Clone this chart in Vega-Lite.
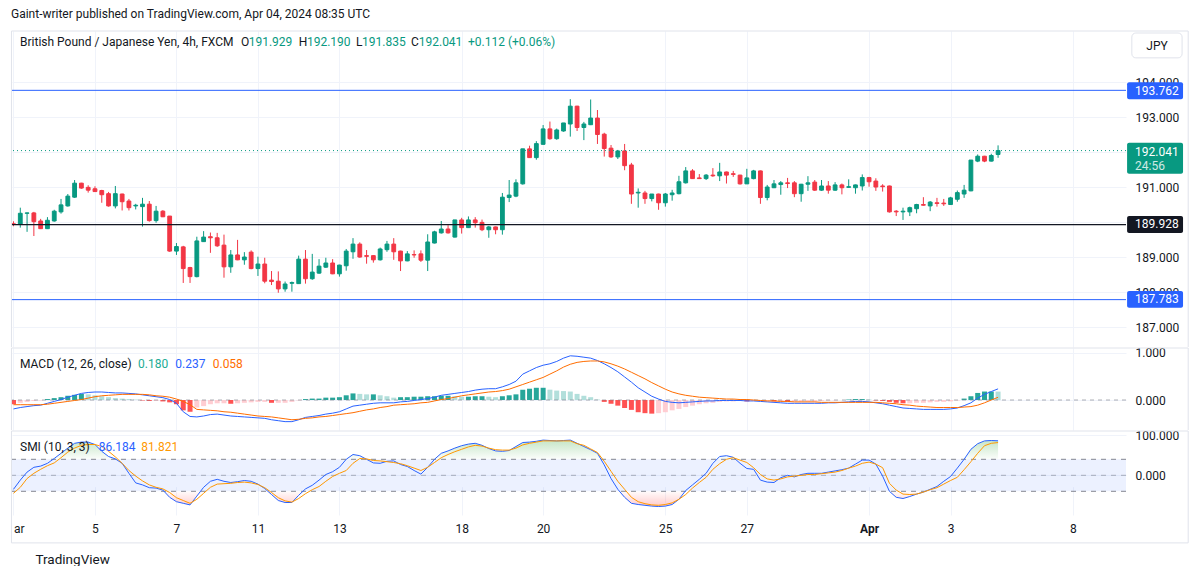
{
  "$schema": "https://vega.github.io/schema/vega-lite/v6.json",
  "background": "#ffffff",
  "padding": {"left": 10, "top": 7, "right": 0, "bottom": 0},
  "config": {"view": {"stroke": null}, "font": "Roboto", "text": {"font": "Roboto"}, "axis": {"labelFont": "Roboto", "titleFont": "Roboto"}},
  "title": {"text": "Gaint-writer published on TradingView.com, Apr 04, 2024 08:35 UTC", "anchor": "start", "fontSize": 12, "fontWeight": "normal", "color": "#131722", "offset": 10, "font": "Roboto"},
  "spacing": 1,
  "bounds": "flush",
  "data": {"values": [
    {"i":0,"o":189.95,"h":190.02,"l":189.88,"c":189.93,"macd":-0.19,"sig":-0.10,"hist":-0.09,"smi":-35,"smis":-45},
    {"i":1,"o":189.93,"h":190.41,"l":189.84,"c":190.25,"macd":-0.16,"sig":-0.10,"hist":-0.06,"smi":-12,"smis":-30},
    {"i":2,"o":190.25,"h":190.27,"l":189.72,"c":190.26,"macd":-0.14,"sig":-0.10,"hist":-0.04,"smi":8,"smis":-8},
    {"i":3,"o":190.26,"h":190.29,"l":189.60,"c":190.01,"macd":-0.12,"sig":-0.10,"hist":-0.02,"smi":20,"smis":5},
    {"i":4,"o":190.03,"h":190.09,"l":189.80,"c":189.81,"macd":-0.11,"sig":-0.10,"hist":-0.01,"smi":23,"smis":15},
    {"i":5,"o":189.81,"h":190.14,"l":189.80,"c":190.05,"macd":-0.07,"sig":-0.09,"hist":0.02,"smi":30,"smis":24},
    {"i":6,"o":190.03,"h":190.35,"l":190.01,"c":190.31,"macd":-0.03,"sig":-0.07,"hist":0.04,"smi":42,"smis":31},
    {"i":7,"o":190.29,"h":190.66,"l":190.24,"c":190.49,"macd":0.01,"sig":-0.05,"hist":0.06,"smi":55,"smis":44},
    {"i":8,"o":190.46,"h":190.80,"l":190.44,"c":190.74,"macd":0.06,"sig":-0.03,"hist":0.09,"smi":68,"smis":58},
    {"i":9,"o":190.71,"h":191.20,"l":190.69,"c":191.11,"macd":0.10,"sig":-0.01,"hist":0.11,"smi":80,"smis":68},
    {"i":10,"o":191.11,"h":191.12,"l":190.95,"c":190.97,"macd":0.14,"sig":0.01,"hist":0.13,"smi":83,"smis":75},
    {"i":11,"o":190.99,"h":191.05,"l":190.84,"c":190.91,"macd":0.16,"sig":0.04,"hist":0.12,"smi":83,"smis":77},
    {"i":12,"o":190.95,"h":191.02,"l":190.86,"c":190.87,"macd":0.17,"sig":0.07,"hist":0.10,"smi":77,"smis":77},
    {"i":13,"o":190.90,"h":190.92,"l":190.55,"c":190.78,"macd":0.17,"sig":0.09,"hist":0.08,"smi":60,"smis":72},
    {"i":14,"o":190.81,"h":190.86,"l":190.44,"c":190.46,"macd":0.16,"sig":0.10,"hist":0.06,"smi":47,"smis":60},
    {"i":15,"o":190.46,"h":191.03,"l":190.39,"c":190.81,"macd":0.15,"sig":0.11,"hist":0.04,"smi":41,"smis":46},
    {"i":16,"o":190.80,"h":190.81,"l":190.33,"c":190.58,"macd":0.15,"sig":0.12,"hist":0.03,"smi":30,"smis":30},
    {"i":17,"o":190.60,"h":190.66,"l":190.33,"c":190.41,"macd":0.14,"sig":0.12,"hist":0.02,"smi":5,"smis":12},
    {"i":18,"o":190.46,"h":190.52,"l":190.36,"c":190.48,"macd":0.13,"sig":0.12,"hist":0.01,"smi":-19,"smis":-2},
    {"i":19,"o":190.44,"h":190.69,"l":189.87,"c":190.51,"macd":0.11,"sig":0.12,"hist":-0.01,"smi":-24,"smis":-14},
    {"i":20,"o":190.51,"h":190.60,"l":190.01,"c":190.04,"macd":0.09,"sig":0.11,"hist":-0.02,"smi":-31,"smis":-24},
    {"i":21,"o":190.04,"h":190.46,"l":189.98,"c":190.31,"macd":0.07,"sig":0.09,"hist":-0.02,"smi":-32,"smis":-30},
    {"i":22,"o":190.31,"h":190.34,"l":190.14,"c":190.15,"macd":0.05,"sig":0.08,"hist":-0.03,"smi":-37,"smis":-34},
    {"i":23,"o":190.17,"h":190.17,"l":189.15,"c":189.17,"macd":0.01,"sig":0.06,"hist":-0.05,"smi":-55,"smis":-43},
    {"i":24,"o":189.17,"h":189.40,"l":189.06,"c":189.30,"macd":-0.07,"sig":0.02,"hist":-0.09,"smi":-66,"smis":-56},
    {"i":25,"o":189.29,"h":189.32,"l":188.26,"c":188.67,"macd":-0.25,"sig":-0.03,"hist":-0.22,"smi":-70,"smis":-63},
    {"i":26,"o":188.70,"h":188.72,"l":188.26,"c":188.44,"macd":-0.35,"sig":-0.10,"hist":-0.25,"smi":-74,"smis":-70},
    {"i":27,"o":188.44,"h":189.58,"l":188.42,"c":189.46,"macd":-0.36,"sig":-0.20,"hist":-0.16,"smi":-52,"smis":-60},
    {"i":28,"o":189.44,"h":189.74,"l":189.43,"c":189.57,"macd":-0.34,"sig":-0.21,"hist":-0.13,"smi":-30,"smis":-45},
    {"i":29,"o":189.58,"h":189.70,"l":189.12,"c":189.55,"macd":-0.31,"sig":-0.22,"hist":-0.09,"smi":-15,"smis":-30},
    {"i":30,"o":189.55,"h":189.69,"l":189.29,"c":189.32,"macd":-0.30,"sig":-0.23,"hist":-0.07,"smi":-10,"smis":-22},
    {"i":31,"o":189.34,"h":189.64,"l":188.41,"c":188.72,"macd":-0.32,"sig":-0.25,"hist":-0.07,"smi":-15,"smis":-21},
    {"i":32,"o":188.72,"h":189.20,"l":188.55,"c":189.06,"macd":-0.34,"sig":-0.26,"hist":-0.08,"smi":-18,"smis":-20},
    {"i":33,"o":189.06,"h":189.49,"l":188.91,"c":188.92,"macd":-0.35,"sig":-0.28,"hist":-0.07,"smi":-16,"smis":-18},
    {"i":34,"o":188.92,"h":189.14,"l":188.78,"c":189.00,"macd":-0.36,"sig":-0.30,"hist":-0.06,"smi":-13,"smis":-17},
    {"i":35,"o":189.14,"h":189.19,"l":188.65,"c":188.67,"macd":-0.37,"sig":-0.32,"hist":-0.05,"smi":-15,"smis":-19},
    {"i":36,"o":188.67,"h":189.01,"l":188.46,"c":188.80,"macd":-0.38,"sig":-0.34,"hist":-0.04,"smi":-22,"smis":-23},
    {"i":37,"o":188.80,"h":188.98,"l":188.25,"c":188.31,"macd":-0.39,"sig":-0.35,"hist":-0.04,"smi":-33,"smis":-31},
    {"i":38,"o":188.34,"h":188.60,"l":188.20,"c":188.30,"macd":-0.42,"sig":-0.36,"hist":-0.06,"smi":-48,"smis":-43},
    {"i":39,"o":188.31,"h":188.59,"l":187.98,"c":188.09,"macd":-0.44,"sig":-0.38,"hist":-0.06,"smi":-63,"smis":-56},
    {"i":40,"o":188.09,"h":188.30,"l":188.01,"c":188.23,"macd":-0.46,"sig":-0.40,"hist":-0.06,"smi":-68,"smis":-64},
    {"i":41,"o":188.25,"h":188.30,"l":188.01,"c":188.27,"macd":-0.46,"sig":-0.42,"hist":-0.04,"smi":-68,"smis":-67},
    {"i":42,"o":188.24,"h":189.04,"l":188.23,"c":188.94,"macd":-0.42,"sig":-0.41,"hist":-0.01,"smi":-50,"smis":-58},
    {"i":43,"o":188.94,"h":189.20,"l":188.24,"c":188.38,"macd":-0.37,"sig":-0.39,"hist":0.02,"smi":-34,"smis":-46},
    {"i":44,"o":188.38,"h":189.09,"l":188.35,"c":188.57,"macd":-0.35,"sig":-0.38,"hist":0.03,"smi":-25,"smis":-36},
    {"i":45,"o":188.54,"h":188.94,"l":188.52,"c":188.74,"macd":-0.33,"sig":-0.36,"hist":0.03,"smi":-12,"smis":-28},
    {"i":46,"o":188.71,"h":188.98,"l":188.69,"c":188.83,"macd":-0.30,"sig":-0.35,"hist":0.05,"smi":2,"smis":-15},
    {"i":47,"o":188.83,"h":188.94,"l":188.51,"c":188.52,"macd":-0.28,"sig":-0.33,"hist":0.05,"smi":9,"smis":-3},
    {"i":48,"o":188.52,"h":188.78,"l":188.44,"c":188.77,"macd":-0.25,"sig":-0.31,"hist":0.06,"smi":20,"smis":5},
    {"i":49,"o":188.75,"h":189.23,"l":188.61,"c":189.17,"macd":-0.19,"sig":-0.29,"hist":0.10,"smi":40,"smis":12},
    {"i":50,"o":189.15,"h":189.54,"l":188.95,"c":189.37,"macd":-0.13,"sig":-0.27,"hist":0.14,"smi":52,"smis":30},
    {"i":51,"o":189.37,"h":189.42,"l":188.98,"c":189.00,"macd":-0.11,"sig":-0.24,"hist":0.13,"smi":49,"smis":42},
    {"i":52,"o":189.04,"h":189.20,"l":188.81,"c":189.02,"macd":-0.09,"sig":-0.21,"hist":0.12,"smi":40,"smis":41},
    {"i":53,"o":189.04,"h":189.05,"l":188.84,"c":188.92,"macd":-0.07,"sig":-0.19,"hist":0.12,"smi":31,"smis":37},
    {"i":54,"o":188.92,"h":189.27,"l":188.90,"c":189.23,"macd":-0.06,"sig":-0.16,"hist":0.10,"smi":30,"smis":36},
    {"i":55,"o":189.21,"h":189.46,"l":189.15,"c":189.37,"macd":-0.06,"sig":-0.14,"hist":0.08,"smi":35,"smis":34},
    {"i":56,"o":189.37,"h":189.54,"l":188.92,"c":189.15,"macd":-0.06,"sig":-0.11,"hist":0.05,"smi":36,"smis":32},
    {"i":57,"o":189.17,"h":189.18,"l":188.60,"c":188.89,"macd":-0.04,"sig":-0.10,"hist":0.06,"smi":27,"smis":29},
    {"i":58,"o":188.89,"h":189.17,"l":188.88,"c":189.09,"macd":-0.03,"sig":-0.09,"hist":0.06,"smi":22,"smis":24},
    {"i":59,"o":189.07,"h":189.19,"l":188.98,"c":189.06,"macd":-0.01,"sig":-0.08,"hist":0.07,"smi":12,"smis":18},
    {"i":60,"o":189.09,"h":189.19,"l":188.86,"c":188.91,"macd":0.01,"sig":-0.06,"hist":0.07,"smi":3,"smis":12},
    {"i":61,"o":188.91,"h":189.65,"l":188.60,"c":189.43,"macd":0.03,"sig":-0.05,"hist":0.08,"smi":20,"smis":20},
    {"i":62,"o":189.40,"h":189.75,"l":189.39,"c":189.72,"macd":0.06,"sig":-0.02,"hist":0.08,"smi":40,"smis":32},
    {"i":63,"o":189.69,"h":190.03,"l":189.67,"c":189.80,"macd":0.10,"sig":0.01,"hist":0.09,"smi":55,"smis":44},
    {"i":64,"o":189.80,"h":189.91,"l":189.67,"c":189.69,"macd":0.12,"sig":0.03,"hist":0.09,"smi":61,"smis":52},
    {"i":65,"o":189.57,"h":190.06,"l":189.56,"c":190.06,"macd":0.14,"sig":0.06,"hist":0.08,"smi":68,"smis":59},
    {"i":66,"o":190.06,"h":190.12,"l":189.67,"c":189.84,"macd":0.16,"sig":0.09,"hist":0.07,"smi":74,"smis":65},
    {"i":67,"o":189.84,"h":190.16,"l":189.83,"c":190.06,"macd":0.18,"sig":0.11,"hist":0.07,"smi":78,"smis":71},
    {"i":68,"o":190.06,"h":190.14,"l":189.84,"c":189.98,"macd":0.21,"sig":0.13,"hist":0.08,"smi":80,"smis":75},
    {"i":69,"o":189.99,"h":190.07,"l":189.74,"c":189.78,"macd":0.23,"sig":0.15,"hist":0.08,"smi":75,"smis":73},
    {"i":70,"o":189.78,"h":189.89,"l":189.55,"c":189.86,"macd":0.24,"sig":0.17,"hist":0.07,"smi":67,"smis":68},
    {"i":71,"o":189.86,"h":189.87,"l":189.65,"c":189.78,"macd":0.24,"sig":0.18,"hist":0.06,"smi":61,"smis":64},
    {"i":72,"o":189.78,"h":190.83,"l":189.64,"c":190.71,"macd":0.28,"sig":0.20,"hist":0.08,"smi":60,"smis":63},
    {"i":73,"o":190.70,"h":191.20,"l":190.57,"c":190.77,"macd":0.33,"sig":0.23,"hist":0.10,"smi":62,"smis":63},
    {"i":74,"o":190.74,"h":191.22,"l":190.71,"c":191.12,"macd":0.40,"sig":0.28,"hist":0.12,"smi":72,"smis":68},
    {"i":75,"o":191.09,"h":192.09,"l":191.07,"c":192.09,"macd":0.55,"sig":0.33,"hist":0.22,"smi":82,"smis":76},
    {"i":76,"o":192.09,"h":192.18,"l":191.83,"c":191.84,"macd":0.62,"sig":0.38,"hist":0.24,"smi":83,"smis":80},
    {"i":77,"o":191.84,"h":192.31,"l":191.78,"c":192.24,"macd":0.69,"sig":0.43,"hist":0.26,"smi":85,"smis":83},
    {"i":78,"o":192.22,"h":192.77,"l":192.21,"c":192.66,"macd":0.74,"sig":0.48,"hist":0.26,"smi":88,"smis":86},
    {"i":79,"o":192.66,"h":192.87,"l":192.35,"c":192.38,"macd":0.77,"sig":0.55,"hist":0.22,"smi":87,"smis":86},
    {"i":80,"o":192.38,"h":192.67,"l":192.35,"c":192.63,"macd":0.82,"sig":0.62,"hist":0.20,"smi":86,"smis":86},
    {"i":81,"o":192.60,"h":192.83,"l":192.58,"c":192.83,"macd":0.89,"sig":0.70,"hist":0.19,"smi":87,"smis":86},
    {"i":82,"o":192.80,"h":193.51,"l":192.44,"c":193.31,"macd":0.94,"sig":0.76,"hist":0.18,"smi":88,"smis":86},
    {"i":83,"o":193.31,"h":193.32,"l":192.60,"c":192.70,"macd":0.93,"sig":0.80,"hist":0.13,"smi":80,"smis":79},
    {"i":84,"o":192.70,"h":192.86,"l":192.34,"c":192.80,"macd":0.91,"sig":0.82,"hist":0.09,"smi":72,"smis":75},
    {"i":85,"o":192.78,"h":193.50,"l":192.77,"c":192.97,"macd":0.89,"sig":0.83,"hist":0.06,"smi":64,"smis":66},
    {"i":86,"o":192.97,"h":193.20,"l":192.23,"c":192.50,"macd":0.84,"sig":0.83,"hist":0.01,"smi":55,"smis":57},
    {"i":87,"o":192.51,"h":192.55,"l":191.87,"c":192.10,"macd":0.77,"sig":0.81,"hist":-0.04,"smi":26,"smis":35},
    {"i":88,"o":192.11,"h":192.20,"l":191.83,"c":191.86,"macd":0.69,"sig":0.77,"hist":-0.08,"smi":-8,"smis":10},
    {"i":89,"o":191.86,"h":192.06,"l":191.80,"c":192.03,"macd":0.60,"sig":0.72,"hist":-0.12,"smi":-35,"smis":-15},
    {"i":90,"o":192.03,"h":192.23,"l":191.48,"c":191.61,"macd":0.49,"sig":0.66,"hist":-0.17,"smi":-55,"smis":-35},
    {"i":91,"o":191.63,"h":191.69,"l":190.52,"c":190.80,"macd":0.38,"sig":0.59,"hist":-0.21,"smi":-70,"smis":-55},
    {"i":92,"o":190.83,"h":190.96,"l":190.41,"c":190.85,"macd":0.26,"sig":0.52,"hist":-0.26,"smi":-73,"smis":-66},
    {"i":93,"o":190.83,"h":190.89,"l":190.52,"c":190.67,"macd":0.17,"sig":0.45,"hist":-0.28,"smi":-75,"smis":-71},
    {"i":94,"o":190.67,"h":190.80,"l":190.59,"c":190.80,"macd":0.08,"sig":0.37,"hist":-0.29,"smi":-77,"smis":-74},
    {"i":95,"o":190.80,"h":190.81,"l":190.35,"c":190.55,"macd":0.02,"sig":0.30,"hist":-0.28,"smi":-78,"smis":-75},
    {"i":96,"o":190.55,"h":190.83,"l":190.44,"c":190.80,"macd":-0.03,"sig":0.23,"hist":-0.26,"smi":-77,"smis":-73},
    {"i":97,"o":190.78,"h":190.92,"l":190.61,"c":190.83,"macd":-0.05,"sig":0.17,"hist":-0.22,"smi":-73,"smis":-69},
    {"i":98,"o":190.81,"h":191.32,"l":190.79,"c":191.15,"macd":-0.06,"sig":0.13,"hist":-0.19,"smi":-60,"smis":-60},
    {"i":99,"o":191.12,"h":191.57,"l":191.10,"c":191.46,"macd":-0.05,"sig":0.10,"hist":-0.15,"smi":-38,"smis":-48},
    {"i":100,"o":191.46,"h":191.51,"l":191.23,"c":191.24,"macd":-0.04,"sig":0.08,"hist":-0.12,"smi":-24,"smis":-32},
    {"i":101,"o":191.26,"h":191.37,"l":191.23,"c":191.24,"macd":-0.03,"sig":0.06,"hist":-0.09,"smi":-10,"smis":-18},
    {"i":102,"o":191.24,"h":191.37,"l":191.20,"c":191.34,"macd":-0.02,"sig":0.05,"hist":-0.07,"smi":5,"smis":-5},
    {"i":103,"o":191.34,"h":191.54,"l":191.29,"c":191.32,"macd":-0.02,"sig":0.04,"hist":-0.06,"smi":30,"smis":15},
    {"i":104,"o":191.32,"h":191.69,"l":191.17,"c":191.43,"macd":-0.01,"sig":0.03,"hist":-0.04,"smi":47,"smis":29},
    {"i":105,"o":191.43,"h":191.44,"l":191.10,"c":191.34,"macd":-0.01,"sig":0.02,"hist":-0.03,"smi":49,"smis":40},
    {"i":106,"o":191.38,"h":191.46,"l":191.29,"c":191.36,"macd":-0.01,"sig":0.02,"hist":-0.03,"smi":45,"smis":44},
    {"i":107,"o":191.34,"h":191.35,"l":191.07,"c":191.09,"macd":-0.01,"sig":0.01,"hist":-0.02,"smi":30,"smis":38},
    {"i":108,"o":191.09,"h":191.52,"l":191.09,"c":191.26,"macd":-0.02,"sig":0.01,"hist":-0.03,"smi":17,"smis":32},
    {"i":109,"o":191.24,"h":191.49,"l":191.22,"c":191.46,"macd":-0.02,"sig":0.00,"hist":-0.02,"smi":15,"smis":19},
    {"i":110,"o":191.46,"h":191.47,"l":190.52,"c":190.70,"macd":-0.03,"sig":-0.01,"hist":-0.02,"smi":-12,"smis":2},
    {"i":111,"o":190.70,"h":191.06,"l":190.62,"c":191.00,"macd":-0.04,"sig":-0.02,"hist":-0.02,"smi":-17,"smis":-9},
    {"i":112,"o":190.98,"h":191.20,"l":190.97,"c":191.09,"macd":-0.05,"sig":-0.02,"hist":-0.03,"smi":-18,"smis":-12},
    {"i":113,"o":191.07,"h":191.17,"l":190.78,"c":191.12,"macd":-0.06,"sig":-0.03,"hist":-0.03,"smi":-6,"smis":-9},
    {"i":114,"o":191.12,"h":191.26,"l":190.97,"c":191.10,"macd":-0.07,"sig":-0.03,"hist":-0.04,"smi":0,"smis":-4},
    {"i":115,"o":191.12,"h":191.17,"l":190.71,"c":190.81,"macd":-0.07,"sig":-0.04,"hist":-0.03,"smi":-4,"smis":-2},
    {"i":116,"o":190.81,"h":191.09,"l":190.58,"c":191.08,"macd":-0.07,"sig":-0.04,"hist":-0.03,"smi":2,"smis":0},
    {"i":117,"o":191.08,"h":191.31,"l":190.89,"c":191.12,"macd":-0.07,"sig":-0.04,"hist":-0.03,"smi":5,"smis":2},
    {"i":118,"o":191.14,"h":191.20,"l":190.89,"c":190.91,"macd":-0.07,"sig":-0.04,"hist":-0.03,"smi":5,"smis":2},
    {"i":119,"o":190.91,"h":191.20,"l":190.89,"c":191.03,"macd":-0.07,"sig":-0.05,"hist":-0.02,"smi":5,"smis":4},
    {"i":120,"o":191.03,"h":191.17,"l":190.81,"c":190.91,"macd":-0.06,"sig":-0.05,"hist":-0.01,"smi":8,"smis":6},
    {"i":121,"o":190.91,"h":191.14,"l":190.89,"c":191.06,"macd":-0.06,"sig":-0.05,"hist":-0.01,"smi":11,"smis":8},
    {"i":122,"o":191.06,"h":191.10,"l":190.79,"c":190.98,"macd":-0.05,"sig":-0.05,"hist":0.00,"smi":14,"smis":12},
    {"i":123,"o":190.99,"h":191.22,"l":190.98,"c":191.01,"macd":-0.04,"sig":-0.05,"hist":0.01,"smi":18,"smis":18},
    {"i":124,"o":190.98,"h":191.07,"l":190.81,"c":191.06,"macd":-0.03,"sig":-0.05,"hist":0.02,"smi":28,"smis":23},
    {"i":125,"o":191.03,"h":191.36,"l":190.90,"c":191.27,"macd":-0.03,"sig":-0.05,"hist":0.02,"smi":38,"smis":30},
    {"i":126,"o":191.27,"h":191.29,"l":191.01,"c":191.15,"macd":-0.04,"sig":-0.05,"hist":0.01,"smi":38,"smis":33},
    {"i":127,"o":191.17,"h":191.25,"l":190.89,"c":191.00,"macd":-0.06,"sig":-0.05,"hist":-0.01,"smi":28,"smis":28},
    {"i":128,"o":191.03,"h":191.08,"l":190.87,"c":191.01,"macd":-0.08,"sig":-0.06,"hist":-0.02,"smi":-2,"smis":19},
    {"i":129,"o":191.03,"h":191.04,"l":190.27,"c":190.29,"macd":-0.11,"sig":-0.07,"hist":-0.04,"smi":-40,"smis":-20},
    {"i":130,"o":190.31,"h":190.34,"l":190.17,"c":190.29,"macd":-0.14,"sig":-0.08,"hist":-0.06,"smi":-55,"smis":-37},
    {"i":131,"o":190.29,"h":190.41,"l":190.06,"c":190.31,"macd":-0.17,"sig":-0.10,"hist":-0.07,"smi":-58,"smis":-47},
    {"i":132,"o":190.29,"h":190.44,"l":190.17,"c":190.41,"macd":-0.18,"sig":-0.11,"hist":-0.07,"smi":-53,"smis":-48},
    {"i":133,"o":190.38,"h":190.52,"l":190.25,"c":190.50,"macd":-0.19,"sig":-0.13,"hist":-0.06,"smi":-47,"smis":-47},
    {"i":134,"o":190.50,"h":190.71,"l":190.47,"c":190.48,"macd":-0.20,"sig":-0.14,"hist":-0.06,"smi":-42,"smis":-42},
    {"i":135,"o":190.46,"h":190.60,"l":190.31,"c":190.57,"macd":-0.20,"sig":-0.15,"hist":-0.05,"smi":-35,"smis":-36},
    {"i":136,"o":190.55,"h":190.69,"l":190.44,"c":190.53,"macd":-0.20,"sig":-0.16,"hist":-0.04,"smi":-28,"smis":-31},
    {"i":137,"o":190.54,"h":190.66,"l":190.46,"c":190.52,"macd":-0.20,"sig":-0.16,"hist":-0.04,"smi":-15,"smis":-22},
    {"i":138,"o":190.50,"h":190.72,"l":190.49,"c":190.69,"macd":-0.19,"sig":-0.16,"hist":-0.03,"smi":-3,"smis":-13},
    {"i":139,"o":190.65,"h":190.90,"l":190.58,"c":190.84,"macd":-0.17,"sig":-0.16,"hist":-0.01,"smi":18,"smis":-5},
    {"i":140,"o":190.80,"h":191.06,"l":190.69,"c":190.91,"macd":-0.12,"sig":-0.15,"hist":0.03,"smi":40,"smis":14},
    {"i":141,"o":190.89,"h":191.77,"l":190.88,"c":191.77,"macd":-0.06,"sig":-0.14,"hist":0.08,"smi":65,"smis":34},
    {"i":142,"o":191.74,"h":191.93,"l":191.71,"c":191.88,"macd":0.04,"sig":-0.11,"hist":0.15,"smi":79,"smis":55},
    {"i":143,"o":191.88,"h":191.89,"l":191.71,"c":191.74,"macd":0.12,"sig":-0.06,"hist":0.18,"smi":86,"smis":74},
    {"i":144,"o":191.74,"h":191.95,"l":191.73,"c":191.90,"macd":0.18,"sig":0.00,"hist":0.18,"smi":87,"smis":80},
    {"i":145,"o":191.929,"h":192.19,"l":191.835,"c":192.041,"macd":0.237,"sig":0.058,"hist":0.179,"smi":86.184,"smis":81.821}
  ]},
  "vconcat": [
    {
      "width": 1114,
      "height": 316,
      "layer": [
        {"mark": {"type": "rule", "strokeWidth": 1},
         "encoding": {
           "x": {"field": "i", "type": "quantitative", "title": null, "scale": {"domain": [-0.22, 163.84], "nice": false, "zero": false, "padding": 0},
                 "axis": {"values": [0, 12, 24, 36, 48, 66, 78, 96, 108, 126, 138, 156], "labels": false, "ticks": false, "domain": false, "grid": true, "gridColor": "#f0f3fa", "title": null}},
           "y": {"field": "l", "type": "quantitative", "title": null, "scale": {"domain": [186.43, 195.457], "nice": false, "zero": false},
                 "axis": {"orient": "right", "values": [187, 188, 189, 190, 191, 192, 193, 194], "format": ".3f", "grid": true, "gridColor": "#f0f3fa", "ticks": false, "domain": false, "labelPadding": 9, "labelFontSize": 12, "labelColor": "#131722", "title": null}},
           "y2": {"field": "h"},
           "color": {"condition": {"test": "datum.c >= datum.o", "value": "#089981"}, "value": "#f23645"}
         }},
        {"mark": {"type": "bar", "width": 3.8, "strokeWidth": 1},
         "encoding": {
           "x": {"field": "i", "type": "quantitative", "title": null, "scale": {"domain": [-0.22, 163.84], "nice": false, "zero": false, "padding": 0}},
           "y": {"field": "o", "type": "quantitative", "title": null, "scale": {"domain": [186.43, 195.457], "nice": false, "zero": false}},
           "y2": {"field": "c"},
           "color": {"condition": {"test": "datum.c >= datum.o", "value": "#089981"}, "value": "#f23645"},
           "stroke": {"condition": {"test": "datum.c >= datum.o", "value": "#089981"}, "value": "#f23645"}
         }},
        {"data": {"values": [{}]}, "mark": {"type": "rule", "color": "#089981", "strokeWidth": 1, "strokeDash": [1, 3]},
         "encoding": {"y": {"datum": 192.041, "type": "quantitative", "title": null}}},
        {"data": {"values": [{}]}, "mark": {"type": "rule", "color": "#2962ff", "strokeWidth": 1},
         "encoding": {"y": {"datum": 193.762, "type": "quantitative", "title": null}}},
        {"data": {"values": [{}]}, "mark": {"type": "rule", "color": "#2962ff", "strokeWidth": 1},
         "encoding": {"y": {"datum": 187.783, "type": "quantitative", "title": null}}},
        {"data": {"values": [{}]}, "mark": {"type": "rule", "color": "#131722", "strokeWidth": 1.3},
         "encoding": {"y": {"datum": 189.928, "type": "quantitative", "title": null}}},
        {"data": {"values": [{}]}, "mark": {"type": "rule", "color": "#e0e3eb", "strokeWidth": 1},
         "encoding": {"x": {"datum": -0.3, "type": "quantitative", "title": null}, "x2": {"datum": 173.0},
                      "y": {"datum": 195.457, "type": "quantitative", "title": null}}},
        {"data": {"values": [{}]}, "mark": {"type": "rule", "color": "#e0e3eb", "strokeWidth": 1},
         "encoding": {"x": {"datum": -0.3, "type": "quantitative", "title": null},
                      "y": {"datum": 195.457, "type": "quantitative", "title": null}, "y2": {"datum": 186.43}}},
        {"data": {"values": [{}]}, "mark": {"type": "rule", "color": "#e0e3eb", "strokeWidth": 1},
         "encoding": {"x": {"datum": 173.0, "type": "quantitative", "title": null},
                      "y": {"datum": 195.457, "type": "quantitative", "title": null}, "y2": {"datum": 186.43}}},
        {"data": {"values": [{}]}, "mark": {"type": "rect", "color": "#2962ff", "cornerRadius": 2},
         "encoding": {"x": {"datum": 164.0, "type": "quantitative", "title": null}, "x2": {"datum": 172.24},
                      "y": {"datum": 193.99, "type": "quantitative", "title": null}, "y2": {"datum": 193.51}}},
        {"data": {"values": [{}]}, "mark": {"type": "rect", "color": "#089981", "cornerRadius": 2},
         "encoding": {"x": {"datum": 164.0, "type": "quantitative", "title": null}, "x2": {"datum": 172.24},
                      "y": {"datum": 192.266, "type": "quantitative", "title": null}, "y2": {"datum": 191.38}}},
        {"data": {"values": [{}]}, "mark": {"type": "rect", "color": "#131722", "cornerRadius": 2},
         "encoding": {"x": {"datum": 164.0, "type": "quantitative", "title": null}, "x2": {"datum": 172.24},
                      "y": {"datum": 190.17, "type": "quantitative", "title": null}, "y2": {"datum": 189.69}}},
        {"data": {"values": [{}]}, "mark": {"type": "rect", "color": "#2962ff", "cornerRadius": 2},
         "encoding": {"x": {"datum": 164.0, "type": "quantitative", "title": null}, "x2": {"datum": 172.24},
                      "y": {"datum": 188.03, "type": "quantitative", "title": null}, "y2": {"datum": 187.55}}},
        {"data": {"values": [{}]}, "mark": {"type": "rect", "fill": "#ffffff", "stroke": "#e0e3eb", "strokeWidth": 1, "cornerRadius": 4},
         "encoding": {"x": {"datum": 164.7, "type": "quantitative", "title": null}, "x2": {"datum": 172.1},
                      "y": {"datum": 195.40, "type": "quantitative", "title": null}, "y2": {"datum": 194.69}}},
        {"data": {"values": [{}]}, "mark": {"type": "text", "align": "center", "baseline": "middle", "fontSize": 12, "color": "#131722", "text": "JPY"},
         "encoding": {"x": {"datum": 168.4, "type": "quantitative", "title": null}, "y": {"datum": 195.04, "type": "quantitative", "title": null}}},
        {"data": {"values": [{}]}, "mark": {"type": "text", "align": "left", "baseline": "middle", "fontSize": 12, "color": "#ffffff", "text": "193.762"},
         "encoding": {"x": {"datum": 165.17, "type": "quantitative", "title": null}, "y": {"datum": 193.745, "type": "quantitative", "title": null}}},
        {"data": {"values": [{}]}, "mark": {"type": "text", "align": "left", "baseline": "middle", "fontSize": 12, "color": "#ffffff", "text": "192.041"},
         "encoding": {"x": {"datum": 165.17, "type": "quantitative", "title": null}, "y": {"datum": 192.01, "type": "quantitative", "title": null}}},
        {"data": {"values": [{}]}, "mark": {"type": "text", "align": "left", "baseline": "middle", "fontSize": 12, "color": "#ffffff", "opacity": 0.8, "text": "24:56"},
         "encoding": {"x": {"datum": 165.17, "type": "quantitative", "title": null}, "y": {"datum": 191.60, "type": "quantitative", "title": null}}},
        {"data": {"values": [{}]}, "mark": {"type": "text", "align": "left", "baseline": "middle", "fontSize": 12, "color": "#ffffff", "text": "189.928"},
         "encoding": {"x": {"datum": 165.17, "type": "quantitative", "title": null}, "y": {"datum": 189.93, "type": "quantitative", "title": null}}},
        {"data": {"values": [{}]}, "mark": {"type": "text", "align": "left", "baseline": "middle", "fontSize": 12, "color": "#ffffff", "text": "187.783"},
         "encoding": {"x": {"datum": 165.17, "type": "quantitative", "title": null}, "y": {"datum": 187.79, "type": "quantitative", "title": null}}},
        {"data": {"values": [{}]}, "mark": {"type": "text", "align": "left", "baseline": "middle", "fontSize": 12, "color": "#131722", "text": "British Pound / Japanese Yen, 4h, FXCM"},
         "encoding": {"x": {"datum": 0.96, "type": "quantitative", "title": null}, "y": {"datum": 195.13, "type": "quantitative", "title": null}}},
        {"data": {"values": [{}]}, "mark": {"type": "text", "align": "left", "baseline": "middle", "fontSize": 12, "color": "#131722", "text": "O"},
         "encoding": {"x": {"datum": 33.5, "type": "quantitative", "title": null}, "y": {"datum": 195.13, "type": "quantitative", "title": null}}},
        {"data": {"values": [{}]}, "mark": {"type": "text", "align": "left", "baseline": "middle", "fontSize": 12, "color": "#089981", "text": "191.929"},
         "encoding": {"x": {"datum": 34.64, "type": "quantitative", "title": null}, "y": {"datum": 195.13, "type": "quantitative", "title": null}}},
        {"data": {"values": [{}]}, "mark": {"type": "text", "align": "left", "baseline": "middle", "fontSize": 12, "color": "#131722", "text": "H"},
         "encoding": {"x": {"datum": 42.0, "type": "quantitative", "title": null}, "y": {"datum": 195.13, "type": "quantitative", "title": null}}},
        {"data": {"values": [{}]}, "mark": {"type": "text", "align": "left", "baseline": "middle", "fontSize": 12, "color": "#089981", "text": "192.190"},
         "encoding": {"x": {"datum": 43.22, "type": "quantitative", "title": null}, "y": {"datum": 195.13, "type": "quantitative", "title": null}}},
        {"data": {"values": [{}]}, "mark": {"type": "text", "align": "left", "baseline": "middle", "fontSize": 12, "color": "#131722", "text": "L"},
         "encoding": {"x": {"datum": 50.44, "type": "quantitative", "title": null}, "y": {"datum": 195.13, "type": "quantitative", "title": null}}},
        {"data": {"values": [{}]}, "mark": {"type": "text", "align": "left", "baseline": "middle", "fontSize": 12, "color": "#089981", "text": "191.835"},
         "encoding": {"x": {"datum": 51.33, "type": "quantitative", "title": null}, "y": {"datum": 195.13, "type": "quantitative", "title": null}}},
        {"data": {"values": [{}]}, "mark": {"type": "text", "align": "left", "baseline": "middle", "fontSize": 12, "color": "#131722", "text": "C"},
         "encoding": {"x": {"datum": 58.54, "type": "quantitative", "title": null}, "y": {"datum": 195.13, "type": "quantitative", "title": null}}},
        {"data": {"values": [{}]}, "mark": {"type": "text", "align": "left", "baseline": "middle", "fontSize": 12, "color": "#089981", "text": "192.041"},
         "encoding": {"x": {"datum": 59.68, "type": "quantitative", "title": null}, "y": {"datum": 195.13, "type": "quantitative", "title": null}}},
        {"data": {"values": [{}]}, "mark": {"type": "text", "align": "left", "baseline": "middle", "fontSize": 12, "color": "#089981", "text": "+0.112 (+0.06%)"},
         "encoding": {"x": {"datum": 66.94, "type": "quantitative", "title": null}, "y": {"datum": 195.13, "type": "quantitative", "title": null}}}
      ]
    },
    {
      "width": 1114,
      "height": 82,
      "layer": [
        {"transform": [{"window": [{"op": "lag", "field": "hist", "as": "prev"}], "sort": [{"field": "i"}]}],
         "mark": {"type": "bar", "width": 5},
         "encoding": {
           "x": {"field": "i", "type": "quantitative", "title": null, "scale": {"domain": [-0.22, 163.84], "nice": false, "zero": false, "padding": 0},
                 "axis": {"values": [0, 12, 24, 36, 48, 66, 78, 96, 108, 126, 138, 156], "labels": false, "ticks": false, "domain": false, "grid": true, "gridColor": "#f0f3fa", "title": null}},
           "y": {"field": "hist", "type": "quantitative", "title": null, "scale": {"domain": [-0.638, 1.106], "nice": false, "zero": false},
                 "axis": {"orient": "right", "values": [0, 1], "format": ".3f", "grid": true, "gridColor": "#f0f3fa", "ticks": false, "domain": false, "labelPadding": 9, "labelFontSize": 12, "labelColor": "#131722", "title": null}},
           "y2": {"datum": 0},
           "color": {"condition": [
             {"test": "datum.hist >= 0 && datum.hist >= datum.prev", "value": "#26a69a"},
             {"test": "datum.hist >= 0", "value": "#b2dfdb"},
             {"test": "datum.hist < datum.prev", "value": "#ff5252"}
           ], "value": "#ffcdd2"}
         }},
        {"data": {"values": [{}]}, "mark": {"type": "rule", "color": "#787b86", "strokeDash": [4, 4], "opacity": 0.6},
         "encoding": {"y": {"datum": 0, "type": "quantitative", "title": null}}},
        {"mark": {"type": "line", "color": "#2962ff", "strokeWidth": 1},
         "encoding": {"x": {"field": "i", "type": "quantitative", "title": null}, "y": {"field": "macd", "type": "quantitative", "title": null}}},
        {"mark": {"type": "line", "color": "#ff6d00", "strokeWidth": 1},
         "encoding": {"x": {"field": "i", "type": "quantitative", "title": null}, "y": {"field": "sig", "type": "quantitative", "title": null}}},
        {"data": {"values": [{}]}, "mark": {"type": "rule", "color": "#e0e3eb", "strokeWidth": 1},
         "encoding": {"x": {"datum": -0.3, "type": "quantitative", "title": null}, "x2": {"datum": 173.0},
                      "y": {"datum": 1.106, "type": "quantitative", "title": null}}},
        {"data": {"values": [{}]}, "mark": {"type": "rule", "color": "#e0e3eb", "strokeWidth": 1},
         "encoding": {"x": {"datum": -0.3, "type": "quantitative", "title": null}}},
        {"data": {"values": [{}]}, "mark": {"type": "rule", "color": "#e0e3eb", "strokeWidth": 1},
         "encoding": {"x": {"datum": 173.0, "type": "quantitative", "title": null}}},
        {"data": {"values": [{}]}, "mark": {"type": "text", "align": "left", "baseline": "middle", "fontSize": 12, "color": "#131722", "text": "MACD (12, 26, close)"},
         "encoding": {"x": {"datum": 0.96, "type": "quantitative", "title": null}, "y": {"datum": 0.772, "type": "quantitative", "title": null}}},
        {"data": {"values": [{}]}, "mark": {"type": "text", "align": "left", "baseline": "middle", "fontSize": 12, "color": "#22ab94", "text": "0.180"},
         "encoding": {"x": {"datum": 18.34, "type": "quantitative", "title": null}, "y": {"datum": 0.772, "type": "quantitative", "title": null}}},
        {"data": {"values": [{}]}, "mark": {"type": "text", "align": "left", "baseline": "middle", "fontSize": 12, "color": "#2962ff", "text": "0.237"},
         "encoding": {"x": {"datum": 23.83, "type": "quantitative", "title": null}, "y": {"datum": 0.772, "type": "quantitative", "title": null}}},
        {"data": {"values": [{}]}, "mark": {"type": "text", "align": "left", "baseline": "middle", "fontSize": 12, "color": "#ff6d00", "text": "0.058"},
         "encoding": {"x": {"datum": 29.34, "type": "quantitative", "title": null}, "y": {"datum": 0.772, "type": "quantitative", "title": null}}}
      ]
    },
    {
      "width": 1114,
      "height": 84,
      "resolve": {"scale": {"y": "independent"}},
      "layer": [
        {"mark": {"type": "area", "color": {"gradient": "linear", "x1": 0, "y1": 0, "x2": 0, "y2": 1, "stops": [{"offset": 0, "color": "rgba(76,175,80,0.32)"}, {"offset": 1, "color": "rgba(76,175,80,0.02)"}]}},
         "encoding": {"x": {"field": "i", "type": "quantitative", "scale": {"domain": [-0.22, 163.84], "nice": false, "zero": false, "padding": 0}},
                      "y": {"field": "smi", "type": "quantitative", "scale": {"domain": [40, 110.75], "range": [28.3, 0], "clamp": true, "nice": false, "zero": false}, "axis": null},
                      "y2": {"datum": 40}}},
        {"mark": {"type": "area", "color": {"gradient": "linear", "x1": 0, "y1": 0, "x2": 0, "y2": 1, "stops": [{"offset": 0, "color": "rgba(255,82,82,0.02)"}, {"offset": 1, "color": "rgba(255,82,82,0.3)"}]}},
         "encoding": {"x": {"field": "i", "type": "quantitative"},
                      "y": {"field": "smi", "type": "quantitative", "scale": {"domain": [-99.25, -40], "range": [84, 60.3], "clamp": true, "nice": false, "zero": false}, "axis": null},
                      "y2": {"datum": -40}}},
        {"layer": [
          {"data": {"values": [{}]}, "mark": {"type": "rect", "color": "#2962ff", "opacity": 0.09},
           "encoding": {"y": {"datum": 40, "type": "quantitative", "title": null}, "y2": {"datum": -40}}},
          {"data": {"values": [{"lv": 40}, {"lv": -40}]}, "mark": {"type": "rule", "color": "#787b86", "strokeDash": [5, 5], "opacity": 0.9},
           "encoding": {"y": {"field": "lv", "type": "quantitative", "title": null}}},
          {"data": {"values": [{"lv": 0}]}, "mark": {"type": "rule", "color": "#787b86", "strokeDash": [5, 5], "opacity": 0.55},
           "encoding": {"y": {"field": "lv", "type": "quantitative", "title": null}}},
          {"mark": {"type": "line", "color": "#2962ff", "strokeWidth": 1},
           "encoding": {
             "x": {"field": "i", "type": "quantitative", "title": "TradingView",
                   "axis": {"values": [0, 12, 24, 36, 48, 66, 78, 96, 108, 126, 138, 156],
                            "labelExpr": "['ar','5','7','11','13','18','20','25','27','Apr','3','8'][indexof([0,12,24,36,48,66,78,96,108,126,138,156], datum.value)]",
                            "labelOverlap": false, "labelFlush": false, "ticks": false, "domain": false, "grid": true, "gridColor": "#f0f3fa",
                            "labelPadding": 8, "labelFontSize": 12, "labelColor": "#131722",
                            "labelFontWeight": {"expr": "datum.value == 126 ? 'bold' : 'normal'"},
                            "labelAlign": {"expr": "datum.value == 0 ? 'left' : 'center'"},
                            "title": "TradingView", "titleFontSize": 13.5, "titleFontWeight": "normal", "titleColor": "#131722",
                            "titleAlign": "left", "titleAnchor": "start", "titlePadding": 18, "titleX": 23}},
             "y": {"field": "smi", "type": "quantitative", "title": null, "scale": {"domain": [-99.25, 110.75], "nice": false, "zero": false},
                   "axis": {"orient": "right", "values": [0, 100], "format": ".3f", "grid": true, "gridColor": "#f0f3fa", "ticks": false, "domain": false, "labelPadding": 9, "labelFontSize": 12, "labelColor": "#131722", "title": null}}
           }},
          {"mark": {"type": "line", "color": "#ff9800", "strokeWidth": 1},
           "encoding": {"x": {"field": "i", "type": "quantitative"}, "y": {"field": "smis", "type": "quantitative", "title": null}}},
          {"data": {"values": [{}]}, "mark": {"type": "rule", "color": "#e0e3eb", "strokeWidth": 1},
           "encoding": {"x": {"datum": -0.3, "type": "quantitative"}, "x2": {"datum": 173.0},
                        "y": {"datum": 110.75, "type": "quantitative", "title": null}}},
          {"data": {"values": [{}]}, "mark": {"type": "rule", "color": "#e0e3eb", "strokeWidth": 1},
           "encoding": {"x": {"datum": -0.3, "type": "quantitative"}, "x2": {"datum": 173.0},
                        "y": {"datum": -169, "type": "quantitative", "title": null}}},
          {"data": {"values": [{}]}, "mark": {"type": "rule", "color": "#e0e3eb", "strokeWidth": 1},
           "encoding": {"x": {"datum": -0.3, "type": "quantitative"},
                        "y": {"datum": 110.75, "type": "quantitative", "title": null}, "y2": {"datum": -169}}},
          {"data": {"values": [{}]}, "mark": {"type": "rule", "color": "#e0e3eb", "strokeWidth": 1},
           "encoding": {"x": {"datum": 173.0, "type": "quantitative"},
                        "y": {"datum": 110.75, "type": "quantitative", "title": null}, "y2": {"datum": -169}}},
          {"data": {"values": [{}]}, "mark": {"type": "text", "align": "left", "baseline": "middle", "fontSize": 12, "color": "#131722", "text": "SMI (10, 3, 3)"},
           "encoding": {"x": {"datum": 0.96, "type": "quantitative"}, "y": {"datum": 71.5, "type": "quantitative", "title": null}}},
          {"data": {"values": [{}]}, "mark": {"type": "text", "align": "left", "baseline": "middle", "fontSize": 12, "color": "#2962ff", "text": "86.184"},
           "encoding": {"x": {"datum": 12.55, "type": "quantitative"}, "y": {"datum": 71.5, "type": "quantitative", "title": null}}},
          {"data": {"values": [{}]}, "mark": {"type": "text", "align": "left", "baseline": "middle", "fontSize": 12, "color": "#ff9800", "text": "81.821"},
           "encoding": {"x": {"datum": 18.82, "type": "quantitative"}, "y": {"datum": 71.5, "type": "quantitative", "title": null}}}
        ]}
      ]
    }
  ]
}
